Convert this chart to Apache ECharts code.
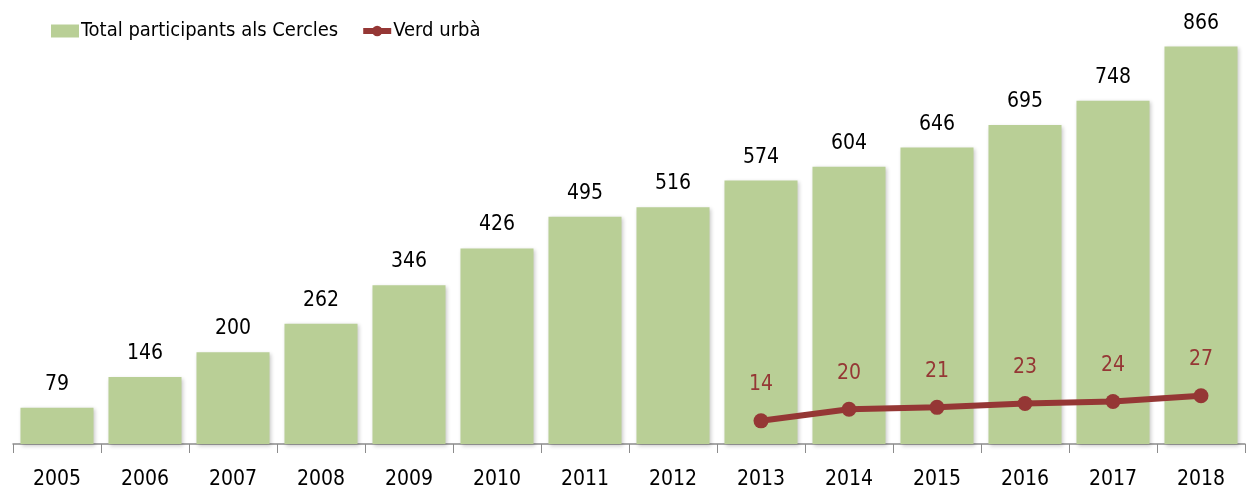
<!DOCTYPE html>
<html>
<head>
<meta charset="utf-8">
<script src="https://cdn.jsdelivr.net/npm/echarts@6/dist/echarts.min.js"></script>
<style>html,body{margin:0;padding:0;background:#fff}#c{width:1247px;height:490px}</style>
</head>
<body>
<div id="c"></div>
<script>
const years = ['2005','2006','2007','2008','2009','2010','2011','2012','2013','2014','2015','2016','2017','2018'];
const totalParticipants = [79,146,200,262,346,426,495,516,574,604,646,695,748,866];
const verdUrba = [null,null,null,null,null,null,null,null,14,20,21,23,24,27];
const seriesNames = ['Total participants als Cercles','Verd urbà'];

const FONT = '"Liberation Sans Narrow","DejaVu Sans Condensed","Liberation Sans",sans-serif';
const chart = echarts.init(document.getElementById('c'));
chart.setOption({
  animation:false,
  textStyle:{fontFamily:FONT},
  legend:{
    left:46, top:16, itemWidth:28, itemHeight:13, itemGap:22,
    textStyle:{fontFamily:FONT, fontSize:20, color:'#000', padding:[0,0,0,-3]},
    data:[
      {name:seriesNames[0], icon:'rect'},
      {name:seriesNames[1], lineStyle:{width:6, color:'#953735'}, itemStyle:{color:'#953735'}}
    ]
  },
  grid:{left:13, right:2, top:31, bottom:46},
  xAxis:{
    type:'category', data:years,
    axisLine:{lineStyle:{color:'#8c8c8c', width:1.5}},
    axisTick:{show:true, length:9, lineStyle:{color:'#8c8c8c', width:1}},
    axisLabel:{fontFamily:FONT, fontSize:21, color:'#000', margin:25}
  },
  yAxis:[
    {type:'value', min:0, max:900, show:false, splitLine:{show:false}},
    {type:'value', min:2, max:216, show:false, splitLine:{show:false}}
  ],
  series:[
    {
      name:seriesNames[0], type:'bar', data:totalParticipants, barCategoryGap:'17%',
      itemStyle:{color:'#b9cf96', shadowColor:'rgba(0,0,0,0.22)', shadowBlur:4, shadowOffsetX:1.5, shadowOffsetY:1.5},
      label:{show:true, position:'top', distance:13, fontFamily:FONT, fontSize:21, color:'#000'}
    },
    {
      name:seriesNames[1], type:'line', yAxisIndex:1, data:verdUrba,
      symbol:'circle', symbolSize:15,
      lineStyle:{color:'#953735', width:6},
      itemStyle:{color:'#953735'},
      label:{show:true, position:'top', distance:18, fontFamily:FONT, fontSize:21, color:'#953735'}
    }
  ]
});
</script>
</body>
</html>
